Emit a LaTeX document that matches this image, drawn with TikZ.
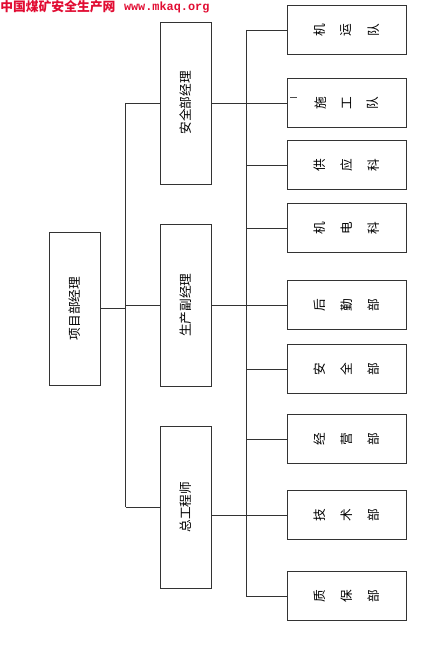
\documentclass[tikz,border=0pt]{standalone}
\usepackage{fontspec}
\newfontfamily\cjk{Noto Sans CJK SC}
\setmonofont{Liberation Mono}
\usetikzlibrary{positioning, calc}
\definecolor{mkred}{RGB}{225,12,50}
\newcommand{\upright}[1]{\rotatebox{90}{#1}}
\newcommand{\threechars}[3]{\upright{#1}\hspace{11.6pt}\upright{#2}\hspace{11.6pt}\upright{#3}}
\tikzset{
  box/.style={draw=black!80, line width=0.6pt, inner sep=0pt},
  headbox/.style={box, minimum width=38.25pt, minimum height=121.5pt,
    font=\cjk\fontsize{9.5}{10}\selectfont},
  deptbox/.style={box, minimum width=89.25pt, minimum height=36.4pt,
    font=\cjk\fontsize{9.5}{10}\selectfont},
  link/.style={draw=black!80, line width=0.6pt},
}

\begin{document}
\begin{tikzpicture}[x=0.75pt, y=-0.75pt]
  \useasboundingbox (0,0) rectangle (437,645);
  % site banner
  \node[anchor=west, inner sep=0pt, text=mkred, font=\cjk\bfseries\fontsize{9.6}{10}\selectfont] (site) at (0,7) {中国煤矿安全生产网};
  \node[right=6pt of site, inner sep=0pt, text=mkred, font=\ttfamily\bfseries\fontsize{8.9}{9}\selectfont] (url) {www.mkaq.org};
  % manager and deputies
  \node[headbox, minimum height=114.75pt] (xmjl) at (74.5,308.5) {\upright{项目部经理}};
  \node[headbox] (aqjl) at (185.5,103) {\upright{安全部经理}};
  \node[headbox] (scjl) at (185.5,305) {\upright{生产副经理}};
  \node[headbox] (zgcs) at (185.5,507) {\upright{总工程师}};
  % departments
  \node[deptbox] (jyd) at (346.5,30) {\threechars{机}{运}{队}};
  \node[deptbox] (sgd) at (346.5,103) {\threechars{施}{工}{队}};
  \node[deptbox] (gyk) at (346.5,165) {\threechars{供}{应}{科}};
  \node[deptbox] (jdk) at (346.5,228) {\threechars{机}{电}{科}};
  \node[deptbox] (hqb) at (346.5,305) {\threechars{后}{勤}{部}};
  \node[deptbox] (aqb) at (346.5,369) {\threechars{安}{全}{部}};
  \node[deptbox] (jyb) at (346.5,439) {\threechars{经}{营}{部}};
  \node[deptbox] (jsb) at (346.5,515) {\threechars{技}{术}{部}};
  \node[deptbox] (zbb) at (346.5,596) {\threechars{质}{保}{部}};
  \draw[black!70, line width=0.5pt] (290,97) -- (297,97);
  % trunk lines
  \coordinate (trunk) at (125.7,0);
  \coordinate (spine) at (246,0);
  \draw[link] (xmjl.east) -- (xmjl.east -| trunk);
  \draw[link] (aqjl.west -| trunk) -- (zgcs.west -| trunk);
  \draw[link] (aqjl.west -| trunk) -- (aqjl.west);
  \draw[link] (scjl.west -| trunk) -- (scjl.west);
  \draw[link] (zgcs.west -| trunk) -- (zgcs.west);
  \draw[link] (jyd.west -| spine) -- (zbb.west -| spine);
  \draw[link] (aqjl.east) -- (sgd.west);
  \draw[link] (scjl.east) -- (hqb.west);
  \draw[link] (zgcs.east |- jsb.west) -- (jsb.west);
  \draw[link] (jyd.west -| spine) -- (jyd.west);
  \draw[link] (gyk.west -| spine) -- (gyk.west);
  \draw[link] (jdk.west -| spine) -- (jdk.west);
  \draw[link] (aqb.west -| spine) -- (aqb.west);
  \draw[link] (jyb.west -| spine) -- (jyb.west);
  \draw[link] (zbb.west -| spine) -- (zbb.west);
\end{tikzpicture}
\end{document}
